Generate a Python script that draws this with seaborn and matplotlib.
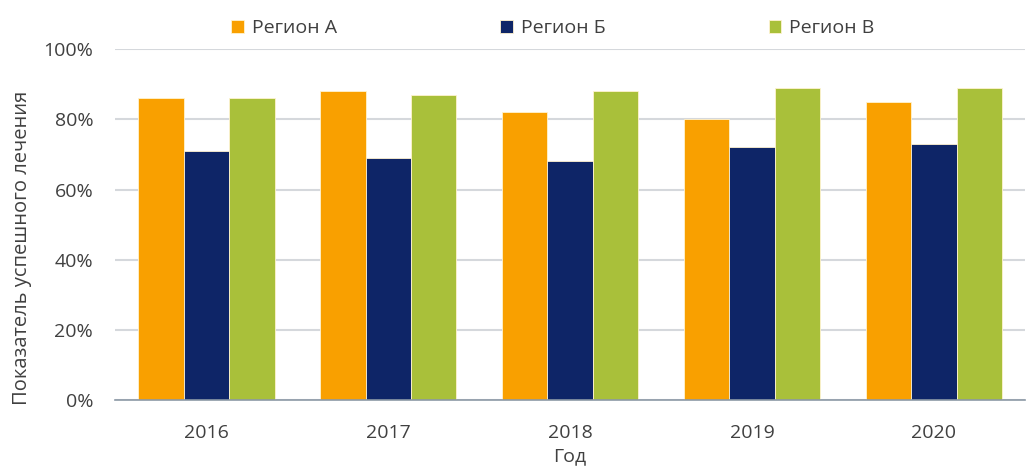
import numpy as np
import pandas as pd
import seaborn as sns
import matplotlib.pyplot as plt
from matplotlib.ticker import PercentFormatter

years = ["2016", "2017", "2018", "2019", "2020"]
regions = ["Регион А", "Регион Б", "Регион В"]
region_a = [86, 88, 82, 80, 85]
region_b = [71, 69, 68, 72, 73]
region_v = [86, 87, 88, 89, 89]
colors = ["#F9A000", "#0E2567", "#A9C03A"]

df = pd.DataFrame({
    "Год": years * 3,
    "Регион": np.repeat(regions, len(years)),
    "Показатель": region_a + region_b + region_v,
})

sns.set_theme(style="white")
plt.rcParams["font.family"] = ["Open Sans", "DejaVu Sans"]
text_color = "#404040"
fs = 14

fig, ax = plt.subplots(figsize=(10.31, 4.67), dpi=100)
fig.subplots_adjust(left=0.112, right=0.994, top=0.895, bottom=0.143)

sns.barplot(data=df, x="Год", y="Показатель", hue="Регион", palette=colors,
            width=0.75, gap=0, ax=ax, edgecolor="#FFF3D0", linewidth=0.6,
            saturation=1, legend=True)

ax.set_ylim(0, 100)
ax.set_yticks(range(0, 101, 20))
ax.yaxis.set_major_formatter(PercentFormatter(decimals=0))
ax.grid(axis="y", color="#D5D8DC", linewidth=1.5)
ax.set_axisbelow(True)
for s in ["left", "right", "top"]:
    ax.spines[s].set_visible(False)
ax.spines["bottom"].set_color("#8C99A6")
ax.spines["bottom"].set_linewidth(1.2)
ax.tick_params(axis="y", length=0, labelsize=fs, colors=text_color, pad=16)
ax.tick_params(axis="x", length=0, labelsize=fs, colors=text_color, pad=17)
ax.set_xlabel("Год", fontsize=fs, color=text_color, labelpad=4)
ax.set_ylabel("Показатель успешного лечения", fontsize=14.5, color=text_color)
ax.yaxis.set_label_coords(-0.092, 0.435)

handles, labels = ax.get_legend_handles_labels()
ax.legend(handles, labels, loc="lower center", bbox_to_anchor=(0.481, 1.0), ncol=3,
          frameon=False, fontsize=fs, handlelength=0.65, handleheight=0.65,
          handletextpad=0.4, columnspacing=8.4, labelcolor=text_color,
          borderaxespad=0.2)

fig.savefig("out.png", dpi=100)
